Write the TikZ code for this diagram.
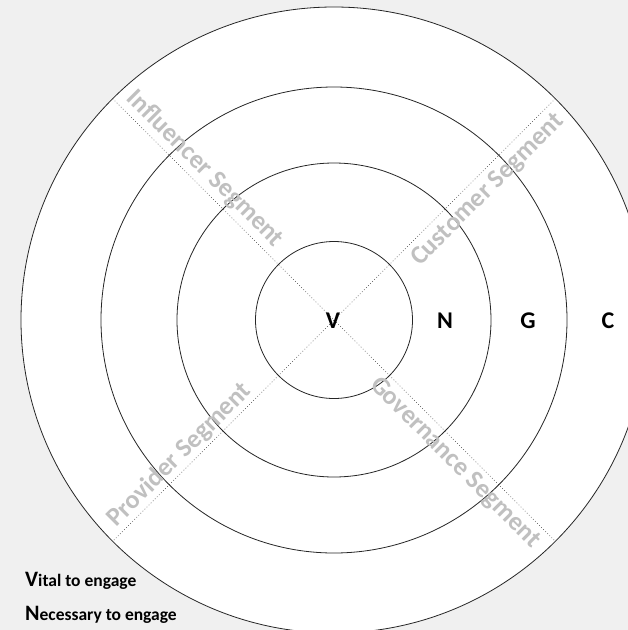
\documentclass[tikz,border=0pt]{standalone}
\usepackage{fontspec}
\setmainfont{Carlito}
\definecolor{bgc}{HTML}{F0F0F0}
\definecolor{seggray}{HTML}{C0C0C0}
\definecolor{ringline}{HTML}{262626}
\begin{document}
\begin{tikzpicture}[x=1pt,y=-1pt,
  ring/.style={draw=ringline, line width=0.8pt},
  divider/.style={draw=black!75, line width=0.6pt, dash pattern=on 0.7pt off 2.2pt},
  seglab/.style={text=seggray, font=\fontsize{26}{28}\selectfont\bfseries, inner sep=0pt, anchor=center},
  ringlab/.style={font=\fontsize{24}{26}\selectfont\bfseries, inner sep=0pt, anchor=center},
  legend/.style={inner sep=0pt, anchor=base west, font=\fontsize{17.5}{20}\selectfont\bfseries}
]
\useasboundingbox (0,0) rectangle (628,630);
\clip (0,0) rectangle (628,630);
\fill[bgc] (0,0) rectangle (628,630);
\coordinate (O) at (334,320);
\fill[white] (O) circle[radius=313pt];
% dividers
\coordinate (ul) at (112.7,98.7);
\coordinate (ur) at (555.3,98.7);
\coordinate (ll) at (112.7,541.3);
\coordinate (lr) at (555.3,541.3);
\draw[divider] (ul) -- (O) -- (lr);
\draw[divider] (ur) -- (O) -- (ll);
% rings
\draw[ring] (O) circle[radius=313pt];
\draw[ring] (O) circle[radius=233pt];
\draw[ring] (O) circle[radius=157pt];
\draw[ring] (O) circle[radius=78.5pt];
% segment labels
\node[seglab, rotate=-45] (infl) at (205,169) {Influencer Segment};
\node[seglab, rotate=45] (cust) at (488,190) {Customer Segment};
\node[seglab, rotate=45] (prov) at (179.5,455) {Provider Segment};
\node[seglab, rotate=-45] (gov) at (455,463) {Governance Segment};
% ring letters
\node[ringlab] (v) at (333,321) {V};
\node[ringlab] (n) at (445,321) {N};
\node[ringlab] (g) at (528,321) {G};
\node[ringlab] (c) at (608,321) {C};
% legend
\node[legend] (vital) at (25,586) {{\fontsize{22}{22}\selectfont V}ital to engage};
\node[legend] (nec) at (25,620) {{\fontsize{22}{22}\selectfont N}ecessary to engage};
\end{tikzpicture}
\end{document}
